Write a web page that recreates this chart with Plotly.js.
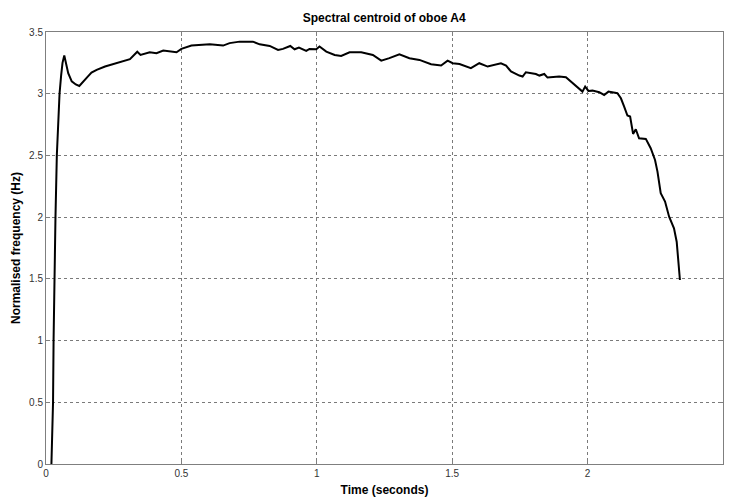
<!DOCTYPE html>
<html>
<head>
<meta charset="utf-8">
<script src="https://cdn.plot.ly/plotly-3.0.1.min.js"></script>
<style>html,body{margin:0;padding:0;background:#fff;}#chart{width:729px;height:497px;}</style>
</head>
<body>
<div id="chart"></div>
<script>
// Time (seconds)
const timeSec = [0.020,0.023,0.026,0.028,0.031,0.035,0.040,0.045,0.050,0.056,0.061,0.0675,0.073,0.082,0.095,0.110,0.123,0.140,0.155,0.168,0.187,0.218,0.261,0.310,0.337,0.349,0.383,0.408,0.433,0.482,0.500,0.537,0.605,0.654,0.678,0.715,0.764,0.789,0.826,0.857,0.875,0.902,0.918,0.934,0.961,0.973,0.998,1.010,1.035,1.066,1.090,1.121,1.164,1.207,1.238,1.268,1.305,1.342,1.379,1.422,1.459,1.483,1.502,1.527,1.569,1.600,1.631,1.680,1.699,1.717,1.748,1.760,1.772,1.809,1.822,1.840,1.852,1.895,1.920,1.944,1.981,1.991,2.003,2.018,2.043,2.061,2.077,2.110,2.123,2.135,2.147,2.157,2.168,2.178,2.190,2.215,2.233,2.249,2.258,2.270,2.286,2.301,2.319,2.329,2.335,2.341];
// Normalised spectral centroid
const centroid = [0.00,0.20,0.50,1.00,1.50,2.00,2.50,2.80,3.00,3.15,3.25,3.31,3.25,3.166,3.10,3.075,3.063,3.10,3.14,3.171,3.193,3.22,3.247,3.28,3.34,3.314,3.336,3.328,3.35,3.336,3.363,3.39,3.40,3.39,3.41,3.422,3.422,3.40,3.387,3.355,3.363,3.387,3.36,3.374,3.347,3.363,3.36,3.382,3.341,3.314,3.306,3.336,3.336,3.314,3.268,3.288,3.32,3.288,3.274,3.239,3.228,3.268,3.247,3.241,3.207,3.247,3.22,3.247,3.228,3.18,3.147,3.139,3.174,3.16,3.147,3.16,3.131,3.139,3.134,3.085,3.017,3.058,3.023,3.025,3.012,2.99,3.017,3.004,2.963,2.896,2.823,2.815,2.674,2.712,2.639,2.634,2.558,2.463,2.369,2.194,2.126,2.004,1.91,1.801,1.653,1.491];
const xTicks = [0,0.5,1,1.5,2,2.5];
const xTickText = ['0','0.5','1','1.5','2','2.5'];
const yTicks = [0,0.5,1,1.5,2,2.5,3,3.5];
const yTickText = ['0','0.5','1','1.5','2','2.5','3','3.5'];

const FONT = 'Liberation Sans, Arial, sans-serif';
const axisCommon = {
  showgrid: true, gridcolor: '#7a7a7a', griddash: 'dot', gridwidth: 1,
  showline: true, linecolor: '#7f7f7f', linewidth: 1, mirror: 'ticks',
  ticks: 'inside', ticklen: 4, tickcolor: '#7f7f7f', zeroline: false,
  tickfont: {family: FONT, size: 10, color: '#333'},
  tickmode: 'array'
};

Plotly.newPlot('chart', [{
  x: timeSec, y: centroid, type: 'scatter', mode: 'lines',
  line: {color: '#000', width: 2}, hoverinfo: 'skip'
}], {
  width: 729, height: 497,
  margin: {l: 46, r: 6, t: 32, b: 33},
  paper_bgcolor: '#fff', plot_bgcolor: '#fff',
  showlegend: false,
  title: {text: '<b>Spectral centroid of oboe A4</b>', x: 0.527, xanchor: 'center', y: 0.965, yanchor: 'middle',
    font: {family: FONT, size: 12, color: '#000'}},
  xaxis: Object.assign({}, axisCommon, {range: [0, 2.5], tickvals: xTicks, ticktext: xTickText,
    title: {text: '<b>Time (seconds)</b>', standoff: 8, font: {family: FONT, size: 12, color: '#000'}}}),
  yaxis: Object.assign({}, axisCommon, {range: [0, 3.5], tickvals: yTicks, ticktext: yTickText,
    title: {text: '<b>Normalised frequency (Hz)</b>', standoff: 5, font: {family: FONT, size: 12, color: '#000'}}})
}, {staticPlot: true, displayModeBar: false});
</script>
</body>
</html>
